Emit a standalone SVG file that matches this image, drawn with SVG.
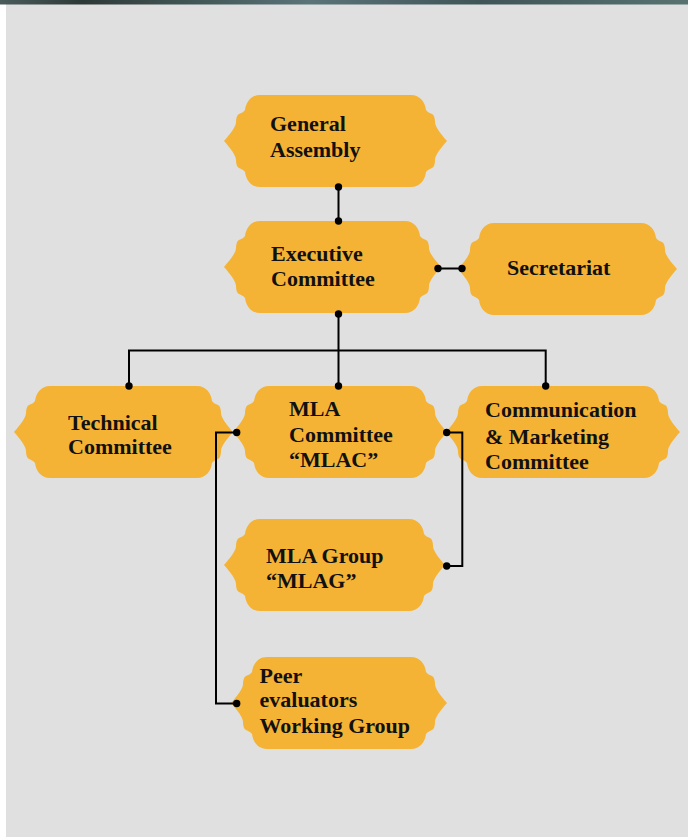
<svg xmlns="http://www.w3.org/2000/svg" width="696" height="837" viewBox="0 0 696 837">
<defs>
<linearGradient id="strip" x1="0" y1="0" x2="1" y2="0">
<stop offset="0" stop-color="#4a5c5a"/>
<stop offset="0.12" stop-color="#2c3a37"/>
<stop offset="0.45" stop-color="#5a7478"/>
<stop offset="0.7" stop-color="#3f5557"/>
<stop offset="1" stop-color="#587272"/>
</linearGradient>
<style>
.shape{fill:#F5B335;}
.lbl{font-family:"Liberation Serif","Times New Roman",serif;font-weight:bold;font-size:22px;fill:#111;}
.conn{fill:none;stroke:#000;stroke-width:2;}
.dot{fill:#000;}
</style>
</defs>
<rect x="0" y="0" width="696" height="837" fill="#ffffff"/>
<rect x="6" y="4" width="682" height="833" fill="#E0E0E0"/>
<rect x="0" y="0" width="688" height="4.5" fill="url(#strip)"/>

<g id="general-assembly" transform="translate(224,95)">
<path class="shape" d="M36,0 H187 C196,0 201,7 202,15 C203,17 206,18 208,19 C210,20 211,23 211,27 C211,32 217,39 223,46 C217,53 211,60 211,65 C211,69 210,72 208,73 C206,74 203,75 202,77 C201,85 196,92 187,92 H36 C27,92 22,85 21,77 C20,75 17,74 15,73 C13,72 12,69 12,65 C12,60 6,53 0,46 C6,39 12,32 12,27 C12,23 13,20 15,19 C17,18 20,17 21,15 C22,7 27,0 36,0 Z"/>
<text class="lbl" x="46" y="35.5">General</text>
<text class="lbl" x="46" y="61.5">Assembly</text>
</g>

<g id="executive-committee" transform="translate(224,221)">
<path class="shape" d="M36,0 H181 C190,0 195,7 196,15 C197,17 200,18 202,19 C204,20 205,23 205,27 C205,32 211,39 217,46 C211,53 205,60 205,65 C205,69 204,72 202,73 C200,74 197,75 196,77 C195,85 190,92 181,92 H36 C27,92 22,85 21,77 C20,75 17,74 15,73 C13,72 12,69 12,65 C12,60 6,53 0,46 C6,39 12,32 12,27 C12,23 13,20 15,19 C17,18 20,17 21,15 C22,7 27,0 36,0 Z"/>
<text class="lbl" x="47" y="39.5">Executive</text>
<text class="lbl" x="47" y="65">Committee</text>
</g>

<g id="secretariat" transform="translate(458,223)">
<path class="shape" d="M36,0 H183 C192,0 197,7 198,15 C199,17 202,18 204,19 C206,20 207,23 207,27 C207,32 213,39 219,46 C213,53 207,60 207,65 C207,69 206,72 204,73 C202,74 199,75 198,77 C197,85 192,92 183,92 H36 C27,92 22,85 21,77 C20,75 17,74 15,73 C13,72 12,69 12,65 C12,60 6,53 0,46 C6,39 12,32 12,27 C12,23 13,20 15,19 C17,18 20,17 21,15 C22,7 27,0 36,0 Z"/>
<text class="lbl" x="49" y="52">Secretariat</text>
</g>

<g id="technical-committee" transform="translate(14,386)">
<path class="shape" d="M36,0 H183 C192,0 197,7 198,15 C199,17 202,18 204,19 C206,20 207,23 207,27 C207,32 213,39 219,46 C213,53 207,60 207,65 C207,69 206,72 204,73 C202,74 199,75 198,77 C197,85 192,92 183,92 H36 C27,92 22,85 21,77 C20,75 17,74 15,73 C13,72 12,69 12,65 C12,60 6,53 0,46 C6,39 12,32 12,27 C12,23 13,20 15,19 C17,18 20,17 21,15 C22,7 27,0 36,0 Z"/>
<text class="lbl" x="54" y="43.5">Technical</text>
<text class="lbl" x="54" y="68">Committee</text>
</g>

<g id="mla-committee" transform="translate(233,386)">
<path class="shape" d="M36,0 H178 C187,0 192,7 193,15 C194,17 197,18 199,19 C201,20 202,23 202,27 C202,32 208,39 214,46 C208,53 202,60 202,65 C202,69 201,72 199,73 C197,74 194,75 193,77 C192,85 187,92 178,92 H36 C27,92 22,85 21,77 C20,75 17,74 15,73 C13,72 12,69 12,65 C12,60 6,53 0,46 C6,39 12,32 12,27 C12,23 13,20 15,19 C17,18 20,17 21,15 C22,7 27,0 36,0 Z"/>
<text class="lbl" x="56" y="30">MLA</text>
<text class="lbl" x="56" y="55.7">Committee</text>
<text class="lbl" x="56" y="80.7">“MLAC”</text>
</g>

<g id="communication-marketing-committee" transform="translate(446,386)">
<path class="shape" d="M36,0 H198 C207,0 212,7 213,15 C214,17 217,18 219,19 C221,20 222,23 222,27 C222,32 228,39 234,46 C228,53 222,60 222,65 C222,69 221,72 219,73 C217,74 214,75 213,77 C212,85 207,92 198,92 H36 C27,92 22,85 21,77 C20,75 17,74 15,73 C13,72 12,69 12,65 C12,60 6,53 0,46 C6,39 12,32 12,27 C12,23 13,20 15,19 C17,18 20,17 21,15 C22,7 27,0 36,0 Z"/>
<text class="lbl" x="39" y="31.3">Communication</text>
<text class="lbl" x="39" y="57.5">&amp; Marketing</text>
<text class="lbl" x="39" y="82.5">Committee</text>
</g>

<g id="mla-group" transform="translate(224,519)">
<path class="shape" d="M36,0 H185 C194,0 199,7 200,15 C201,17 204,18 206,19 C208,20 209,23 209,27 C209,32 215,39 221,46 C215,53 209,60 209,65 C209,69 208,72 206,73 C204,74 201,75 200,77 C199,85 194,92 185,92 H36 C27,92 22,85 21,77 C20,75 17,74 15,73 C13,72 12,69 12,65 C12,60 6,53 0,46 C6,39 12,32 12,27 C12,23 13,20 15,19 C17,18 20,17 21,15 C22,7 27,0 36,0 Z"/>
<text class="lbl" x="42" y="44.3">MLA Group</text>
<text class="lbl" x="42" y="69.3">“MLAG”</text>
</g>

<g id="peer-evaluators-working-group" transform="translate(231,657)">
<path class="shape" d="M36,0 H180 C189,0 194,7 195,15 C196,17 199,18 201,19 C203,20 204,23 204,27 C204,32 210,39 216,46 C210,53 204,60 204,65 C204,69 203,72 201,73 C199,74 196,75 195,77 C194,85 189,92 180,92 H36 C27,92 22,85 21,77 C20,75 17,74 15,73 C13,72 12,69 12,65 C12,60 6,53 0,46 C6,39 12,32 12,27 C12,23 13,20 15,19 C17,18 20,17 21,15 C22,7 27,0 36,0 Z"/>
<text class="lbl" x="28.5" y="25.7">Peer</text>
<text class="lbl" x="28.5" y="49.7">evaluators</text>
<text class="lbl" x="28.5" y="76.3">Working Group</text>
</g>

<g id="connectors">
<path class="conn" d="M338.5,187 V221"/>
<path class="conn" d="M438,268.5 H462"/>
<path class="conn" d="M338.5,314 V386"/>
<path class="conn" d="M129,386 V350.5 H545.7 V386"/>
<path class="conn" d="M236.7,432.5 H216 V703.5 H236.7"/>
<path class="conn" d="M446.7,432.5 H462.3 V566 H446.7"/>
<circle class="dot" cx="338.5" cy="187" r="3.7"/>
<circle class="dot" cx="338.5" cy="221" r="3.7"/>
<circle class="dot" cx="438" cy="268.5" r="3.7"/>
<circle class="dot" cx="462" cy="268.5" r="3.7"/>
<circle class="dot" cx="338.5" cy="314" r="3.7"/>
<circle class="dot" cx="129" cy="386" r="3.7"/>
<circle class="dot" cx="338.5" cy="386" r="3.7"/>
<circle class="dot" cx="545.7" cy="386" r="3.7"/>
<circle class="dot" cx="236.7" cy="432.5" r="3.7"/>
<circle class="dot" cx="446.7" cy="432.5" r="3.7"/>
<circle class="dot" cx="446.7" cy="566" r="3.7"/>
<circle class="dot" cx="236.7" cy="703.5" r="3.7"/>
</g>
</svg>
